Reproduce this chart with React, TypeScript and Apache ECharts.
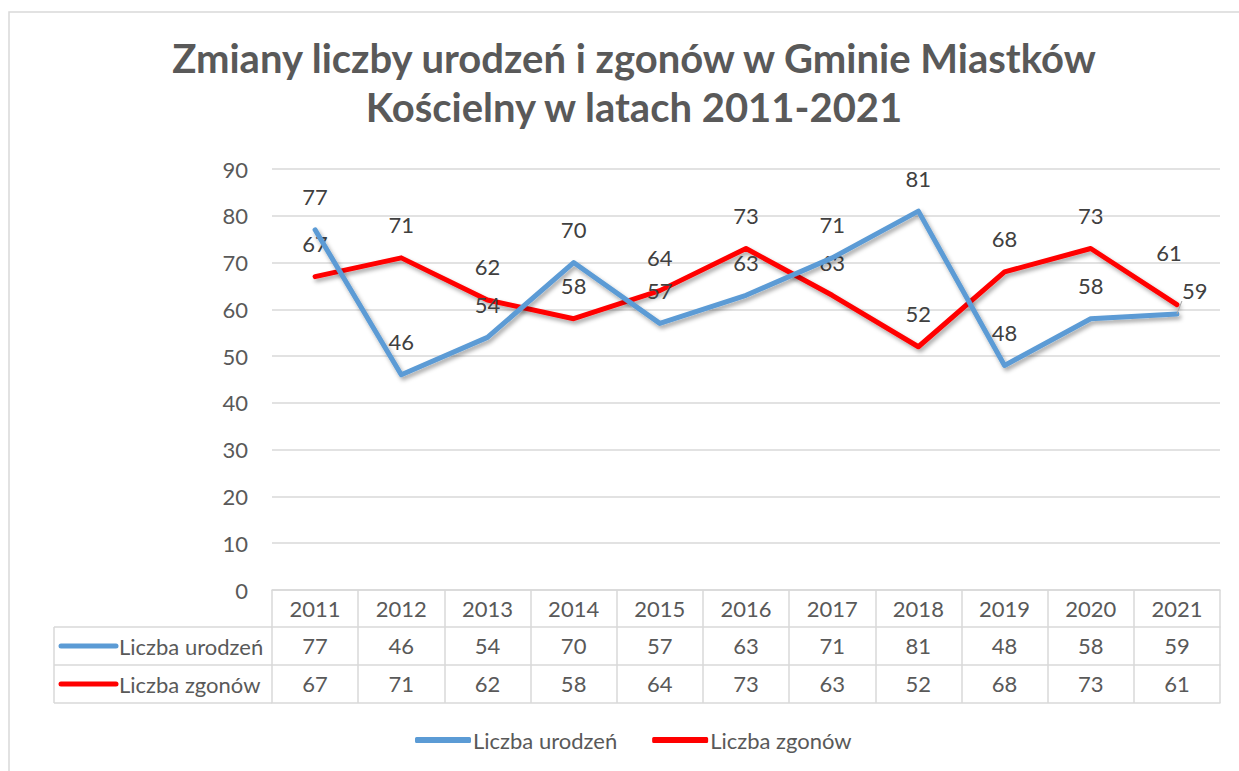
import React, { useEffect, useRef } from "react";
import * as echarts from "echarts";

const years = ["2011", "2012", "2013", "2014", "2015", "2016", "2017", "2018", "2019", "2020", "2021"];
const births = [77, 46, 54, 70, 57, 63, 71, 81, 48, 58, 59];
const deaths = [67, 71, 62, 58, 64, 73, 63, 52, 68, 73, 61];
const seriesNames = ["Liczba urodzeń", "Liczba zgonów"];
const titleText = "Zmiany liczby urodzeń i zgonów w Gminie Miastków\nKościelny w latach 2011-2021";

const BLUE = "#5B9BD5";
const RED = "#FF0000";
const GRID = "#D9D9D9";
const TXT = "#595959";
const FONT = "Lato, 'Open Sans', sans-serif";
const FS = 22;

export default function App() {
  const ref = useRef<HTMLDivElement>(null);
  useEffect(() => {
    document.body.style.margin = "0";
    const chart = echarts.init(ref.current!, null, { renderer: "svg" });
    const shadow = {
      shadowColor: "rgba(0,0,0,0.35)",
      shadowBlur: 4,
      shadowOffsetX: 2,
      shadowOffsetY: 3,
    };
    const label = {
      show: true,
      position: "top" as const,
      distance: 22,
      fontSize: FS,
      color: "#404040",
      fontFamily: FONT,
    };
    const axisText = {
      interval: 0,
      margin: 7,
      lineHeight: FS,
      fontSize: FS,
      color: TXT,
      fontFamily: FONT,
    };
    const rowAxis = (offset: number, fmt: (v: string, i: number) => string, line: boolean) => ({
      type: "category" as const,
      data: years,
      position: "bottom" as const,
      offset,
      boundaryGap: true,
      axisLine: { show: line, lineStyle: { color: GRID, width: 1.5 } },
      axisTick: { show: false },
      axisLabel: { show: true, ...axisText, formatter: fmt },
      splitLine: { show: false },
    });
    const lastB = births.length - 1;
    const lastD = deaths.length - 1;
    const option: any = {
      animation: false,
      backgroundColor: "#fff",
      textStyle: { fontFamily: FONT },
      title: {
        text: titleText,
        left: 629,
        textAlign: "center",
        top: 28,
        textStyle: {
          fontSize: 40,
          fontWeight: "bold",
          color: TXT,
          lineHeight: 49,
          fontFamily: FONT,
        },
      },
      grid: { left: 272, right: 19, top: 169, bottom: 181, containLabel: false },
      legend: {
        left: 410,
        top: 724,
        icon: "roundRect",
        itemWidth: 56,
        itemHeight: 6,
        itemGap: 35,
        textStyle: { fontSize: FS, color: TXT, fontFamily: FONT, padding: [0, 0, 0, -3] },
        data: seriesNames,
      },
      xAxis: [
        {
          type: "category",
          data: years,
          position: "bottom",
          boundaryGap: true,
          axisLine: { show: true, lineStyle: { color: GRID, width: 1.5 } },
          axisTick: { show: true, interval: 0, length: 113, lineStyle: { color: GRID, width: 1.5 } },
          axisLabel: axisText,
        },
        rowAxis(37, (_v, i) => String(births[i]), true),
        rowAxis(75, (_v, i) => String(deaths[i]), true),
        rowAxis(113, () => "", true),
      ],
      yAxis: {
        type: "value",
        min: 0,
        max: 90,
        interval: 10,
        axisLine: { show: false },
        axisTick: { show: false },
        axisLabel: { fontSize: FS, color: TXT, margin: 24, fontFamily: FONT },
        splitLine: { lineStyle: { color: GRID, width: 1.5 } },
      },
      series: [
        {
          name: seriesNames[0],
          type: "line",
          xAxisIndex: 0,
          z: 3,
          data: births.map((v, i) =>
            i === lastB
              ? {
                  value: v,
                  label: { position: "right", distance: 5, offset: [0, -24] },
                  labelLine: { show: true, lineStyle: { color: "#A6A6A6", width: 1 } },
                }
              : v
          ),
          symbol: "circle",
          symbolSize: 0.01,
          showSymbol: true,
          color: BLUE,
          itemStyle: { color: BLUE },
          lineStyle: { color: BLUE, width: 5, cap: "round", join: "round", ...shadow },
          label,
        },
        {
          name: seriesNames[1],
          type: "line",
          xAxisIndex: 0,
          z: 2,
          data: deaths.map((v, i) =>
            i === lastD ? { value: v, label: { offset: [-8, -19] } } : v
          ),
          symbol: "circle",
          symbolSize: 0.01,
          showSymbol: true,
          color: RED,
          itemStyle: { color: RED },
          lineStyle: { color: RED, width: 5, cap: "round", join: "round", ...shadow },
          label,
        },
      ],
      graphic: [
        {
          type: "rect",
          silent: true,
          shape: { x: 9, y: 12, width: 1400, height: 900 },
          style: { fill: "none", stroke: GRID, lineWidth: 1.5 },
        },
        { type: "line", shape: { x1: 54, y1: 627, x2: 272, y2: 627 }, style: { stroke: GRID, lineWidth: 1.5 } },
        { type: "line", shape: { x1: 54, y1: 665, x2: 272, y2: 665 }, style: { stroke: GRID, lineWidth: 1.5 } },
        { type: "line", shape: { x1: 54, y1: 703, x2: 272, y2: 703 }, style: { stroke: GRID, lineWidth: 1.5 } },
        { type: "line", shape: { x1: 54, y1: 627, x2: 54, y2: 703 }, style: { stroke: GRID, lineWidth: 1.5 } },
        { type: "line", shape: { x1: 61, y1: 646, x2: 116, y2: 646 }, style: { stroke: BLUE, lineWidth: 5, lineCap: "round" } },
        { type: "line", shape: { x1: 61, y1: 684, x2: 116, y2: 684 }, style: { stroke: RED, lineWidth: 5, lineCap: "round" } },
        {
          type: "text",
          x: 119,
          y: 646,
          style: { text: seriesNames[0], fontSize: FS, fill: TXT, fontFamily: FONT, verticalAlign: "middle" },
        },
        {
          type: "text",
          x: 119,
          y: 684,
          style: { text: seriesNames[1], fontSize: FS, fill: TXT, fontFamily: FONT, verticalAlign: "middle" },
        },
      ],
    };
    chart.setOption(option);
    return () => chart.dispose();
  }, []);
  return <div ref={ref} style={{ width: 1239, height: 771 }} />;
}
